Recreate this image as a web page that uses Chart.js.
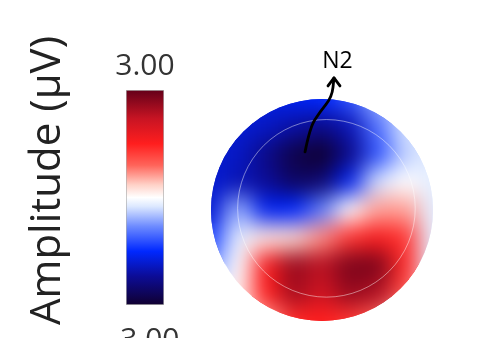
<!DOCTYPE html>
<html>
<head>
<meta charset="utf-8">
<script src="https://cdn.jsdelivr.net/npm/chart.js@4.4.0/dist/chart.umd.min.js"></script>
<style>
  html, body { margin: 0; padding: 0; background: #fff; }
  #wrap { position: relative; width: 490px; height: 338px; overflow: hidden; }
  #barCanvas { position: absolute; left: 0; top: 0; }
  #mapCanvas { position: absolute; left: 200px; top: 0; }
</style>
</head>
<body>
<div id="wrap">
  <canvas id="barCanvas" width="200" height="338"></canvas>
  <canvas id="mapCanvas" width="290" height="338"></canvas>
</div>
<script>
// scale of the colour bar (µV)
const barRange = [-3, 3];
const barLabels = ['3.00', '-3.00'];
const axisTitle = 'Amplitude (μV)';
const peakLabel = 'N2';

// sampling grid of the scalp map (head radius = 1)
const gridX = [-1, -0.75, -0.5, -0.25, 0, 0.25, 0.5, 0.75, 1];
const gridY = [1, 0.75, 0.5, 0.25, 0, -0.25, -0.5, -0.75, -1];

// amplitude, one row per gridY value
const amplitude = [
    [-1.5, -1.6, -1.7, -1.6, -1.5, -1.2, -0.6, -0.2, -0.1],
    [-1.8, -1.8, -1.9, -2.1, -2.3, -2.0, -1.0, -0.3, -0.1],
    [-1.8, -1.9, -2.3, -2.8, -3.0, -2.3, -1.2, -0.4, -0.2],
    [-1.8, -2.0, -2.2, -2.6, -2.5, -1.6, -0.3, 0.0, -0.2],
    [-1.8, -0.6, -1.6, -1.5, -0.9, 0.0, 0.6, 0.6, -0.2],
    [-1.3, -0.2, 0.2, 0.3, 0.7, 1.3, 1.6, 1.3, -0.2],
    [-0.8, 0.0, 1.6, 2.6, 2.3, 2.8, 2.8, 1.4, -0.2],
    [0.0, 0.1, 1.5, 2.5, 2.1, 2.6, 2.4, 1.1, -0.1],
    [0.1, 0.1, 0.6, 1.4, 1.5, 1.3, 0.9, 0.1, 0.0]
];

// N2 arrow path (tail -> tip) in map units
const arrowX = [-0.153, -0.108, -0.018, 0.09, 0.108];
const arrowY = [0.523, 0.748, 0.883, 1.018, 1.19];

// colour map
const cmapStops = [-3, -2.2, -1.5, -0.8, -0.25, 0, 0.35, 0.9, 1.5, 2.2, 3];
const cmapColors = [
    [16, 0, 48], [12, 12, 150], [0, 40, 255], [110, 140, 255], [220, 232, 255],
    [255, 255, 255], [255, 210, 200], [255, 100, 90], [255, 30, 30], [200, 20, 35], [100, 0, 25]
];

function colorFor(v) {
    if (v <= cmapStops[0]) return 'rgb(' + cmapColors[0].join(',') + ')';
    for (let i = 1; i < cmapStops.length; i++) {
        if (v <= cmapStops[i]) {
            let t = (v - cmapStops[i - 1]) / (cmapStops[i] - cmapStops[i - 1]);
            let a = cmapColors[i - 1], b = cmapColors[i];
            let c = a.map(function (x, k) { return Math.round(x + (b[k] - x) * t); });
            return 'rgb(' + c.join(',') + ')';
        }
    }
    return 'rgb(' + cmapColors[cmapColors.length - 1].join(',') + ')';
}

const FONT = "'Open Sans', sans-serif";

// ---------- colour bar ----------
const barLabelPlugin = {
    id: 'barLabels',
    afterDraw: function (chart) {
        const ctx = chart.ctx;
        const y = chart.scales.y;
        const x = chart.scales.x;
        const cx = x.getPixelForValue(0);
        ctx.save();
        ctx.fillStyle = '#333';
        ctx.font = '30px ' + FONT;
        ctx.textAlign = 'center';
        ctx.textBaseline = 'alphabetic';
        ctx.fillText(barLabels[0], cx, y.getPixelForValue(barRange[1]) - 15);
        ctx.fillText(barLabels[1], cx, y.getPixelForValue(barRange[0]) + 44);

        // rotated axis title
        ctx.translate(60, (y.top + y.bottom) / 2 - 17);
        ctx.rotate(-Math.PI / 2);
        ctx.fillStyle = '#222';
        ctx.font = '42px ' + FONT;
        ctx.fillText(axisTitle, 0, 0);
        ctx.restore();
    }
};

new Chart(document.getElementById('barCanvas'), {
    type: 'bar',
    data: {
        labels: ['amp'],
        datasets: [{
            data: [barRange],
            categoryPercentage: 1,
            barPercentage: 1,
            borderWidth: 1,
            borderColor: 'rgba(120,120,120,0.6)',
            borderSkipped: false,
            backgroundColor: function (c) {
                const chart = c.chart;
                if (!chart.chartArea) return '#fff';
                const y = chart.scales.y;
                const g = chart.ctx.createLinearGradient(0, y.getPixelForValue(barRange[0]), 0, y.getPixelForValue(barRange[1]));
                cmapStops.forEach(function (s) {
                    g.addColorStop((s - barRange[0]) / (barRange[1] - barRange[0]), colorFor(s));
                });
                return g;
            }
        }]
    },
    options: {
        responsive: false,
        animation: false,
        events: [],
        layout: { padding: { left: 126, right: 36, top: 90, bottom: 33 } },
        plugins: { legend: { display: false }, tooltip: { enabled: false } },
        scales: {
            x: { display: false },
            y: { display: false, min: barRange[0], max: barRange[1] }
        }
    },
    plugins: [barLabelPlugin]
});

// ---------- scalp map ----------
const points = [];
const pointColors = [];
gridY.forEach(function (gy, r) {
    gridX.forEach(function (gx, c) {
        points.push({ x: gx, y: gy, v: amplitude[r][c] });
        pointColors.push(colorFor(amplitude[r][c]));
    });
});

function headPath(chart, ctx, cxVal, cyVal, rVal) {
    const x = chart.scales.x, y = chart.scales.y;
    const cx = x.getPixelForValue(cxVal), cy = y.getPixelForValue(cyVal);
    const r = x.getPixelForValue(cxVal + rVal) - cx;
    ctx.beginPath();
    ctx.arc(cx, cy, r, 0, Math.PI * 2);
}

const topoPlugin = {
    id: 'topo',
    beforeDatasetsDraw: function (chart) {
        const ctx = chart.ctx;
        ctx.save();
        headPath(chart, ctx, 0, 0, 1);
        ctx.clip();
    },
    afterDatasetsDraw: function (chart) {
        const ctx = chart.ctx;
        // smooth the sampled cells with a blurred copy on top
        const meta = chart.getDatasetMeta(0);
        const off = document.createElement('canvas');
        off.width = chart.width;
        off.height = chart.height;
        const octx = off.getContext('2d');
        const side = Math.abs(chart.scales.x.getPixelForValue(0.25) - chart.scales.x.getPixelForValue(0)) + 1;
        meta.data.forEach(function (el, i) {
            octx.fillStyle = pointColors[i];
            octx.fillRect(el.x - side / 2, el.y - side / 2, side, side);
        });
        ctx.filter = 'blur(11px)';
        ctx.drawImage(off, 0, 0);
        ctx.filter = 'none';
        ctx.restore();

        // inner (scalp) outline
        ctx.save();
        headPath(chart, ctx, 0.04, 0.015, 0.8);
        ctx.strokeStyle = 'rgba(255,255,255,0.45)';
        ctx.lineWidth = 1;
        ctx.stroke();
        ctx.restore();

        // arrow to the N2 peak
        const x = chart.scales.x, y = chart.scales.y;
        const px = arrowX.map(function (v) { return x.getPixelForValue(v); });
        const py = arrowY.map(function (v) { return y.getPixelForValue(v); });
        ctx.save();
        ctx.strokeStyle = '#000';
        ctx.lineWidth = 2.8;
        ctx.lineCap = 'round';
        ctx.lineJoin = 'round';
        ctx.beginPath();
        ctx.moveTo(px[0], py[0]);
        for (let i = 1; i < px.length - 1; i++) {
            const mx = (px[i] + px[i + 1]) / 2, my = (py[i] + py[i + 1]) / 2;
            ctx.quadraticCurveTo(px[i], py[i], mx, my);
        }
        ctx.lineTo(px[px.length - 1], py[py.length - 1]);
        ctx.stroke();
        const tx = px[px.length - 1], ty = py[py.length - 1];
        ctx.beginPath();
        ctx.moveTo(tx - 6, ty + 8);
        ctx.lineTo(tx, ty);
        ctx.lineTo(tx + 6, ty + 8);
        ctx.stroke();

        ctx.fillStyle = '#000';
        ctx.font = '23px ' + FONT;
        ctx.textAlign = 'center';
        ctx.fillText(peakLabel, x.getPixelForValue(0.14), y.getPixelForValue(1.28));
        ctx.restore();
    }
};

new Chart(document.getElementById('mapCanvas'), {
    type: 'scatter',
    data: {
        datasets: [{
            data: points,
            clip: false,
            pointStyle: 'rect',
            borderWidth: 0,
            backgroundColor: pointColors,
            pointRadius: function (c) {
                const sx = c.chart.scales.x;
                if (!sx) return 14;
                return (Math.abs(sx.getPixelForValue(0.25) - sx.getPixelForValue(0)) + 1) / Math.SQRT2;
            }
        }]
    },
    options: {
        responsive: false,
        animation: false,
        events: [],
        layout: { padding: { left: 11, right: 57, top: 99, bottom: 17 } },
        plugins: { legend: { display: false }, tooltip: { enabled: false } },
        scales: {
            x: { type: 'linear', display: false, min: -1, max: 1 },
            y: { type: 'linear', display: false, min: -1, max: 1 }
        }
    },
    plugins: [topoPlugin]
});
</script>
</body>
</html>
